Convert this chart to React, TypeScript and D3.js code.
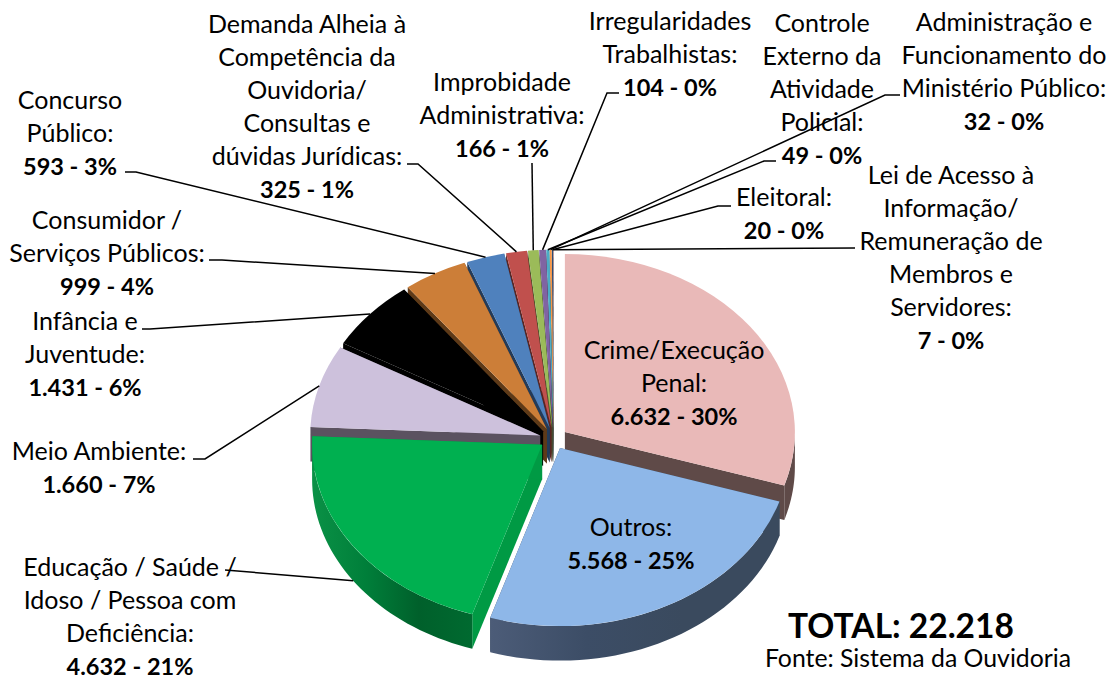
import React from 'react';
import * as d3 from 'd3';

const categories = [
  'Crime/Execução Penal', 'Outros', 'Educação / Saúde / Idoso / Pessoa com Deficiência', 'Meio Ambiente',
  'Infância e Juventude', 'Consumidor / Serviços Públicos', 'Concurso Público',
  'Demanda Alheia à Competência da Ouvidoria/ Consultas e dúvidas Jurídicas', 'Improbidade Administrativa',
  'Irregularidades Trabalhistas', 'Controle Externo da Atividade Policial',
  'Administração e Funcionamento do Ministério Público', 'Eleitoral',
  'Lei de Acesso à Informação/ Remuneração de Membros e Servidores',
];
const values = [6632, 5568, 4632, 1660, 1431, 999, 593, 325, 166, 104, 49, 32, 20, 7];
const total = 22218;

const labelLines = [
  ['Crime/Execução', 'Penal:'],
  ['Outros:'],
  ['Educação / Saúde /', 'Idoso / Pessoa com', 'Deficiência:'],
  ['Meio Ambiente:'],
  ['Infância e', 'Juventude:'],
  ['Consumidor /', 'Serviços Públicos:'],
  ['Concurso', 'Público:'],
  ['Demanda Alheia à', 'Competência da', 'Ouvidoria/', 'Consultas e', 'dúvidas Jurídicas:'],
  ['Improbidade', 'Administrativa:'],
  ['Irregularidades', 'Trabalhistas:'],
  ['Controle', 'Externo da', 'Atividade', 'Policial:'],
  ['Administração e', 'Funcionamento do', 'Ministério Público:'],
  ['Eleitoral:'],
  ['Lei de Acesso à', 'Informação/', 'Remuneração de', 'Membros e', 'Servidores:'],
];

const topColors = ['#e9b9b8', '#8eb7e8', '#00b050', '#cdc1dc', '#000000', '#cc7e38', '#4f81bd', '#c0504d', '#9bbb59', '#8064a2', '#4bacc6', '#f79646', '#2c4d75', '#772c2a'];
const faceColors = ['#5f4a48', '#3a4a5e', '#009a44', '#5b5260', '#000000', '#5e3a18', '#243b59', '#5a2523', '#4a5a2a', '#3c2f4d', '#23515d', '#744619', '#15243a', '#381514'];
const wallStops = [
  ['#5f4a48', '#5f4a48'], ['#4c5c78', '#3c4d66', '#3a4a5e', '#3a4a5e'], ['#0a9146', '#007f3a', '#00602b', '#006a30'],
  ['#5b5260', '#5b5260'], ['#000000', '#000000'], ['#5e3a18', '#5e3a18'], ['#243b59', '#243b59'], ['#5a2523', '#5a2523'],
  ['#4a5a2a', '#4a5a2a'], ['#3c2f4d', '#3c2f4d'], ['#23515d', '#23515d'], ['#744619', '#744619'], ['#15243a', '#15243a'], ['#381514', '#381514'],
];

// where each label sits: centre x, first baseline, and the elbow of its leader (empty = inside the pie)
const labelPlace: { x: number; y: number; leader: [number, number][] }[] = [
  { x: 674, y: 359, leader: [] },
  { x: 631, y: 536, leader: [] },
  { x: 130, y: 576, leader: [[225, 570]] },
  { x: 99, y: 460, leader: [[193, 459], [205, 459]] },
  { x: 85, y: 330, leader: [[142, 329], [150, 329]] },
  { x: 107, y: 229, leader: [[209, 260], [222, 260]] },
  { x: 70, y: 109, leader: [[125, 172], [136, 172]] },
  { x: 307, y: 33, leader: [[407, 164], [418, 164]] },
  { x: 502, y: 91, leader: [[532, 163]] },
  { x: 670, y: 30, leader: [[619, 93], [607, 93]] },
  { x: 822, y: 32, leader: [[776, 161], [764, 161]] },
  { x: 1004, y: 31, leader: [[900, 95], [885, 95]] },
  { x: 784, y: 206, leader: [[731, 206], [718, 206]] },
  { x: 951, y: 184, leader: [[855, 248]] },
];

const width = 1110;
const height = 675;
const cx = 553.6;
const cy = 438.5;
const rx = 230;
const ry = 178;
const depth = 34.5;
const explode = 14;
const lineStep = 32.9;
const fontFamily = 'Lato, Carlito, Calibri, sans-serif';

const formatNumber = d3.formatLocale({ decimal: ',', thousands: '.', grouping: [3], currency: ['', ''] }).format(',d');

const pie = d3.pie<number>().sort(null).value((d) => d);
const arcs = pie(values);
const topArc = d3.arc<d3.PieArcDatum<number>>().innerRadius(0).outerRadius(rx);
const outline = d3.line<[number, number]>().curve(d3.curveLinear);
const squash = ry / rx;

type Slice = { i: number; a0: number; a1: number; mid: number; ox: number; oy: number };

const slices: Slice[] = arcs.map((a, i) => {
  const mid = (a.startAngle + a.endAngle) / 2;
  return {
    i, a0: a.startAngle, a1: a.endAngle, mid,
    ox: cx + explode * Math.sin(mid),
    oy: cy - explode * squash * Math.cos(mid),
  };
});

const rim = (s: Slice, a: number, drop = 0): [number, number] => [
  s.ox + rx * Math.sin(a),
  s.oy - ry * Math.cos(a) + drop,
];

// back slices get painted first, so front ones cover them
const paintOrder = [...slices].sort((p, q) => Math.cos(q.mid) - Math.cos(p.mid));

const facePath = (s: Slice, a: number) =>
  outline([[s.ox, s.oy], rim(s, a), rim(s, a, depth), [s.ox, s.oy + depth]]) + 'Z';

const wallPath = (s: Slice) => {
  const from = Math.max(s.a0, Math.PI / 2);
  const to = Math.min(s.a1, (3 * Math.PI) / 2);
  if (to <= from) return null;
  const steps = d3.range(0, 41).map((k) => from + ((to - from) * k) / 40);
  return outline([...steps.map((a) => rim(s, a)), ...steps.reverse().map((a) => rim(s, a, depth))]) + 'Z';
};

const leaderPath = (s: Slice) => {
  const points = labelPlace[s.i].leader;
  if (!points.length) return null;
  const end = rim(s, s.mid, Math.cos(s.mid) < -0.3 ? depth : 0);
  return outline([...points, end]);
};

export default function App() {
  return (
    <svg
      width={width}
      height={height}
      viewBox={`0 0 ${width} ${height}`}
      style={{ position: 'absolute', left: 0, top: 0, background: '#fff' }}
      fontFamily={fontFamily}
    >
      <defs>
        {wallStops.map((stops, i) => (
          <linearGradient key={i} id={`wall-${i}`} x1="0" x2="1" y1="0" y2="0">
            {stops.map((c, k) => (
              <stop key={k} offset={k / (stops.length - 1)} stopColor={c} />
            ))}
          </linearGradient>
        ))}
      </defs>

      {paintOrder.map((s) => {
        const wall = wallPath(s);
        return (
          <g key={s.i}>
            <path d={facePath(s, s.a0)} fill={faceColors[s.i]} />
            <path d={facePath(s, s.a1)} fill={faceColors[s.i]} />
            {wall && <path d={wall} fill={`url(#wall-${s.i})`} />}
            <path
              d={topArc(arcs[s.i]) as string}
              transform={`translate(${s.ox},${s.oy}) scale(1,${squash})`}
              fill={topColors[s.i]}
            />
          </g>
        );
      })}

      {slices.map((s) => {
        const d = leaderPath(s);
        return d ? <path key={s.i} d={d} fill="none" stroke="#000" strokeWidth={1.5} /> : null;
      })}

      {slices.map((s) => {
        const place = labelPlace[s.i];
        const lines = labelLines[s.i];
        const share = Math.round((values[s.i] / total) * 100);
        return (
          <g key={s.i} textAnchor="middle" fontSize={25} fill="#000" aria-label={categories[s.i]}>
            {lines.map((line, k) => (
              <text key={k} x={place.x} y={place.y + k * lineStep}>{line}</text>
            ))}
            <text x={place.x} y={place.y + lines.length * lineStep} fontWeight={700} fontSize={23.5}>
              {`${formatNumber(values[s.i])} - ${share}%`}
            </text>
          </g>
        );
      })}

      <text x={901} y={638} textAnchor="middle" fontSize={33.5} fontWeight={700}>
        {`TOTAL: ${formatNumber(total)}`}
      </text>
      <text x={918} y={667} textAnchor="middle" fontSize={24.8}>Fonte: Sistema da Ouvidoria</text>
    </svg>
  );
}
